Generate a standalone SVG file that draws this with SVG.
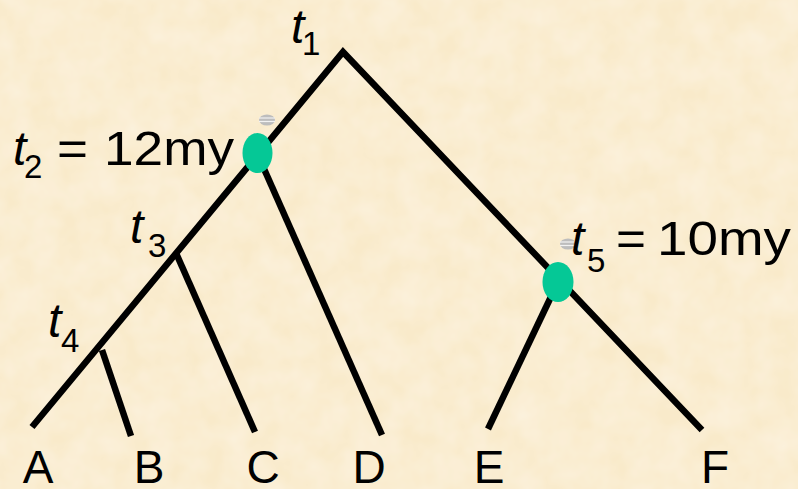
<svg xmlns="http://www.w3.org/2000/svg" width="798" height="489" viewBox="0 0 798 489">
  <defs>
    <filter id="paper" x="0" y="0" width="100%" height="100%">
      <feTurbulence type="fractalNoise" baseFrequency="0.035" numOctaves="3" seed="7" result="n"/>
      <feColorMatrix in="n" type="matrix" values="0 0 0 0 1  0 0 0 0 0.97  0 0 0 0 0.9  0 0 0 0.55 -0.12" result="spots"/>
      <feComposite in="spots" in2="SourceGraphic" operator="over"/>
    </filter>
    <style>
      .edge { stroke: #000; stroke-width: 6.5; fill: none; stroke-linejoin: miter; }
      .node { fill: #05C896; }
      .lbl { font-family: "Liberation Sans", Arial, sans-serif; fill: #000; }
      .t { font-style: italic; font-size: 48px; }
      .sub { font-size: 33px; }
      .eq { font-size: 49px; }
      .leaf { font-size: 46px; text-anchor: middle; }
      .mark { fill: #bdbdbd; }
      .markline { stroke: #f2f2f2; stroke-width: 1.2; }
    </style>
  </defs>

  <rect x="0" y="0" width="798" height="489" fill="#F9EACA" filter="url(#paper)"/>

  <g id="connectors">
    <path class="edge" d="M32,427 L343,52 L702,430"/>
    <line class="edge" x1="102" y1="350" x2="131" y2="436"/>
    <line class="edge" x1="176" y1="253" x2="255" y2="432"/>
    <line class="edge" x1="257" y1="153" x2="382" y2="435"/>
    <line class="edge" x1="558" y1="282" x2="488" y2="429"/>
  </g>

  <g id="t1">
    <text class="lbl t" x="291" y="43">t</text>
    <text class="lbl sub" x="302" y="55">1</text>
  </g>

  <g id="t2">
    <ellipse class="node" cx="257.5" cy="153" rx="15" ry="20"/>
    <g class="markdeco">
      <ellipse class="mark" cx="267" cy="120" rx="8" ry="5.5"/>
      <line class="markline" x1="259" y1="118" x2="275" y2="118"/>
      <line class="markline" x1="259" y1="121.5" x2="275" y2="121.5"/>
    </g>
    <text class="lbl t" x="13" y="165">t</text>
    <text class="lbl sub" x="24" y="178">2</text>
    <text class="lbl eq" x="57" y="165" textLength="31" lengthAdjust="spacingAndGlyphs">=</text>
    <text class="lbl eq" x="104" y="165" textLength="130" lengthAdjust="spacingAndGlyphs">12my</text>
  </g>

  <g id="t3">
    <text class="lbl t" x="130" y="243">t</text>
    <text class="lbl sub" x="148" y="257">3</text>
  </g>

  <g id="t4">
    <text class="lbl t" x="48" y="337">t</text>
    <text class="lbl sub" x="61" y="352">4</text>
  </g>

  <g id="t5">
    <ellipse class="node" cx="558" cy="282" rx="15.5" ry="20"/>
    <g class="markdeco">
      <ellipse class="mark" cx="568" cy="244" rx="8" ry="5.5"/>
      <line class="markline" x1="560" y1="242" x2="576" y2="242"/>
      <line class="markline" x1="560" y1="245.5" x2="576" y2="245.5"/>
    </g>
    <text class="lbl t" x="571" y="255">t</text>
    <text class="lbl sub" x="587" y="272">5</text>
    <text class="lbl eq" x="616" y="255" textLength="30" lengthAdjust="spacingAndGlyphs">=</text>
    <text class="lbl eq" x="657" y="255" textLength="134" lengthAdjust="spacingAndGlyphs">10my</text>
  </g>

  <g id="leafA"><text class="lbl leaf" x="38" y="483">A</text></g>
  <g id="leafB"><text class="lbl leaf" x="149" y="483">B</text></g>
  <g id="leafC"><text class="lbl leaf" x="263" y="483">C</text></g>
  <g id="leafD"><text class="lbl leaf" x="369" y="483">D</text></g>
  <g id="leafE"><text class="lbl leaf" x="489" y="483">E</text></g>
  <g id="leafF"><text class="lbl leaf" x="715" y="483">F</text></g>
</svg>
